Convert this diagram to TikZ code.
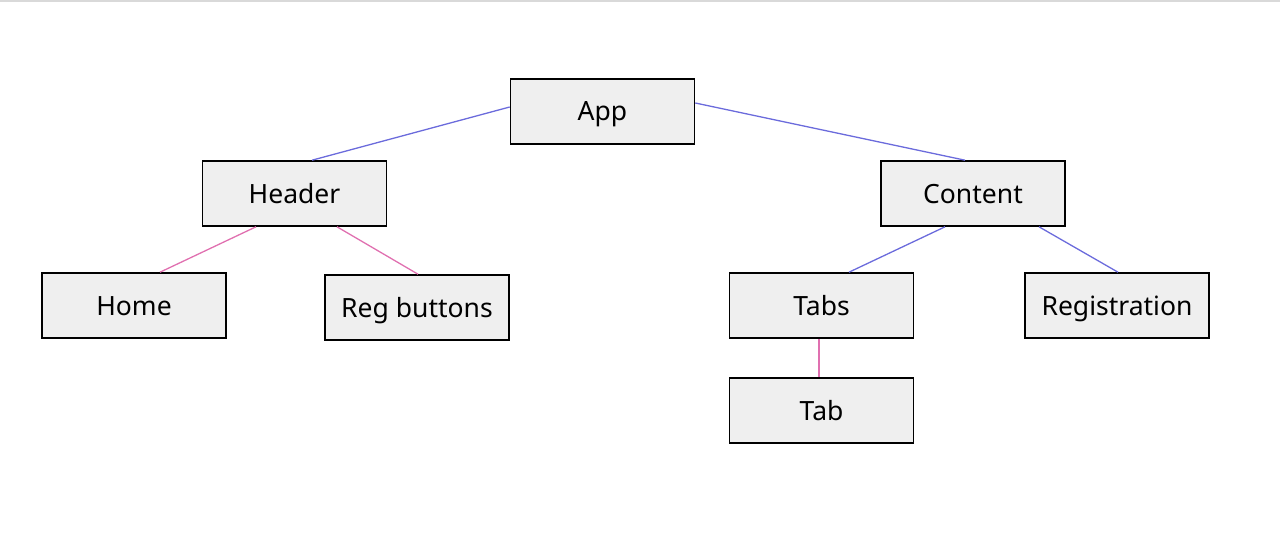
\documentclass[tikz,border=0pt]{standalone}
\usepackage{fontspec}
\setmainfont{Noto Sans}
\definecolor{boxfill}{HTML}{EFEFEF}
\definecolor{blueline}{HTML}{6B6BDC}
\definecolor{pinkline}{HTML}{E070B0}
\definecolor{topline}{HTML}{D9D9D9}
\begin{document}
\begin{tikzpicture}[x=1pt,y=-1pt,
  comp/.style={draw=black,line width=1.6pt,fill=boxfill,minimum width=184pt,minimum height=65pt,inner sep=0pt,text height=19pt,text depth=0pt,font=\fontsize{26.5}{31}\selectfont},
  bluelink/.style={draw=blueline,line width=1.3pt},
  pinklink/.style={draw=pinkline,line width=1.3pt}]
\useasboundingbox (0,0) rectangle (1280,559);
\fill[topline] (0,0) rectangle (1280,2);
\node[comp] (app) at (602.5,111.5) {App};
\node[comp] (header) at (294.5,193.5) {Header};
\node[comp] (content) at (973,193.5) {Content};
\node[comp] (home) at (134,305.5) {Home};
\node[comp] (regbuttons) at (417,307.5) {Reg buttons};
\node[comp] (tabs) at (821.5,305.5) {Tabs};
\node[comp] (registration) at (1117,305.5) {Registration};
\node[comp] (tab) at (821.5,410.5) {Tab};
\draw[bluelink] ([yshift=4.5pt]app.west) -- ([xshift=17.5pt]header.north);
\draw[bluelink] ([yshift=8.5pt]app.east) -- ([xshift=-8pt]content.north);
\draw[pinklink] ([xshift=-38.5pt]header.south) -- ([xshift=26pt]home.north);
\draw[pinklink] ([xshift=42.5pt]header.south) -- ([xshift=1pt]regbuttons.north);
\draw[bluelink] ([xshift=-28pt]content.south) -- ([xshift=27.5pt]tabs.north);
\draw[bluelink] ([xshift=66pt]content.south) -- ([xshift=1pt]registration.north);
\draw[pinklink] ([xshift=-2.5pt]tabs.south) -- ([xshift=-2.5pt]tab.north);
\end{tikzpicture}
\end{document}
